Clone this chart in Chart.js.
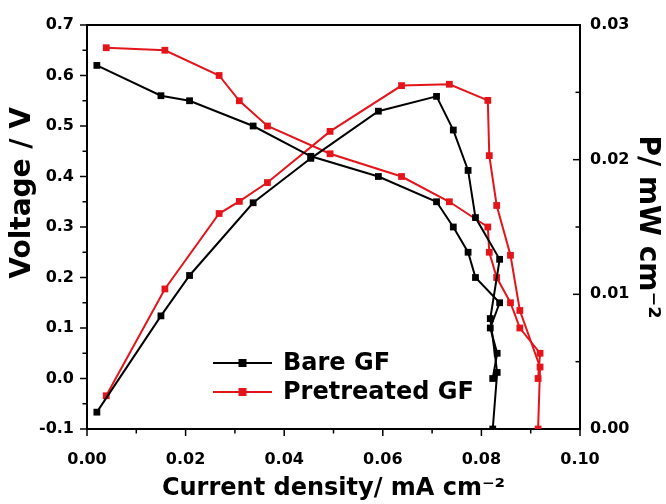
<!DOCTYPE html>
<html>
<head>
<meta charset="utf-8">
<title>Polarization and power curves</title>
<script src="https://cdn.jsdelivr.net/npm/chart.js@4.4.1/dist/chart.umd.min.js"></script>
<style>
  html, body { margin: 0; padding: 0; background: #fff; }
  #chart { display: block; }
</style>
</head>
<body>
<canvas id="chart" width="666" height="504"></canvas>
<script>
// Bare GF: current density (mA cm-2), cell voltage (V), power density (mW cm-2)
var bareCurrent = [0.0020, 0.0150, 0.0208, 0.0337, 0.0454, 0.0591, 0.0709, 0.0743, 0.0773, 0.0788, 0.0837, 0.0818, 0.0832, 0.0823];
var bareVoltage = [0.62, 0.56, 0.55, 0.50, 0.44, 0.40, 0.35, 0.30, 0.25, 0.20, 0.15, 0.10, 0.05, 0.00];
var barePower   = [0.00125, 0.0084, 0.0114, 0.0168, 0.0201, 0.0236, 0.0247, 0.0222, 0.0192, 0.0157, 0.0126, 0.0082, 0.0042, 0.0];

// Pretreated GF
var pretreatedCurrent = [0.0039, 0.0158, 0.0268, 0.0309, 0.0366, 0.0493, 0.0638, 0.0735, 0.0813, 0.0816, 0.0831, 0.0859, 0.0878, 0.0919, 0.0915];
var pretreatedVoltage = [0.655, 0.65, 0.60, 0.55, 0.50, 0.445, 0.40, 0.35, 0.30, 0.25, 0.20, 0.15, 0.10, 0.05, 0.00];
var pretreatedPower   = [0.00247, 0.0104, 0.0160, 0.0169, 0.0183, 0.0221, 0.0255, 0.0256, 0.0244, 0.0203, 0.0166, 0.0129, 0.0088, 0.0046, 0.0];

var seriesNames = ['Bare GF', 'Pretreated GF'];
var seriesColors = ['#000000', '#e3151b'];

var xTitle = 'Current density/ mA cm\u207B\u00B2';
var yTitle = 'Voltage / V';
var y2Title = 'P/ mW cm\u207B\u00B2';

function toPoints(xs, ys) {
    return xs.map(function (x, i) { return { x: x, y: ys[i] }; });
}

// round away float noise so zero never shows as "-0.0"
function fixed(v, digits) {
    if (Math.abs(v) < 1e-9) v = 0;
    return v.toFixed(digits);
}

function lineSet(label, xs, ys, color, axis) {
    return {
        label: label,
        data: toPoints(xs, ys),
        yAxisID: axis,
        borderColor: color,
        backgroundColor: color,
        borderWidth: 2,
        pointStyle: 'rect',
        pointRadius: 4.8,
        pointHoverRadius: 4.8,
        pointBorderWidth: 0,
        tension: 0,
        fill: false
    };
}

// small tick marks, major at labels and minor halfway between
var tickMarks = {
    id: 'tickMarks',
    afterDraw: function (chart) {
        var ctx = chart.ctx;
        var area = chart.chartArea;
        ctx.save();
        ctx.strokeStyle = '#000';
        ctx.lineWidth = 2;

        // frame line along the top
        ctx.beginPath();
        ctx.moveTo(area.left - 1, area.top);
        ctx.lineTo(area.right + 1, area.top);
        ctx.stroke();

        ctx.lineWidth = 1.5;
        var setup = [
            { id: 'x', dir: 'down', at: area.bottom },
            { id: 'y', dir: 'left', at: area.left },
            { id: 'y2', dir: 'left', at: area.right }
        ];
        setup.forEach(function (s) {
            var scale = chart.scales[s.id];
            var values = scale.ticks.map(function (t) { return t.value; });
            var marks = [];
            values.forEach(function (v, i) {
                marks.push({ v: v, len: 7 });
                if (i < values.length - 1) marks.push({ v: (v + values[i + 1]) / 2, len: 4.5 });
            });
            marks.forEach(function (m) {
                var p = scale.getPixelForValue(m.v);
                ctx.beginPath();
                if (s.dir === 'down') {
                    ctx.moveTo(p, s.at);
                    ctx.lineTo(p, s.at + m.len);
                } else {
                    ctx.moveTo(s.at, p);
                    ctx.lineTo(s.at - m.len, p);
                }
                ctx.stroke();
            });
        });
        ctx.restore();
    }
};

// legend inside the plot: line with a square marker, then the name
var insideLegend = {
    id: 'insideLegend',
    afterDatasetsDraw: function (chart) {
        var ctx = chart.ctx;
        var area = chart.chartArea;
        var x0 = area.left + 126;
        var y0 = area.top + 338;
        ctx.save();
        ctx.font = 'bold 24px "DejaVu Sans"';
        ctx.textBaseline = 'middle';
        ctx.textAlign = 'left';
        seriesNames.forEach(function (name, i) {
            var y = y0 + i * 29;
            ctx.strokeStyle = seriesColors[i];
            ctx.fillStyle = seriesColors[i];
            ctx.lineWidth = 2;
            ctx.beginPath();
            ctx.moveTo(x0, y);
            ctx.lineTo(x0 + 59, y);
            ctx.stroke();
            ctx.fillRect(x0 + 29.5 - 4, y - 4, 8, 8);
            ctx.fillStyle = '#000';
            ctx.fillText(name, x0 + 70, y + 1);
        });
        ctx.restore();
    }
};

Chart.defaults.font.family = '"DejaVu Sans", sans-serif';
Chart.defaults.font.weight = 'bold';
Chart.defaults.color = '#000';

var ctx = document.getElementById('chart').getContext('2d');
var chart = new Chart(ctx, {
    type: 'line',
    data: {
        datasets: [
            lineSet(seriesNames[0], bareCurrent, bareVoltage, seriesColors[0], 'y'),
            lineSet(seriesNames[0] + ' power', bareCurrent, barePower, seriesColors[0], 'y2'),
            lineSet(seriesNames[1], pretreatedCurrent, pretreatedVoltage, seriesColors[1], 'y'),
            lineSet(seriesNames[1] + ' power', pretreatedCurrent, pretreatedPower, seriesColors[1], 'y2')
        ]
    },
    options: {
        responsive: false,
        animation: false,
        layout: { padding: { top: 25, left: 0, right: 0, bottom: 0 } },
        plugins: {
            legend: { display: false },
            tooltip: { enabled: false }
        },
        scales: {
            x: {
                type: 'linear',
                position: 'bottom',
                min: 0,
                max: 0.1,
                grid: { display: false, drawTicks: false },
                border: { display: true, color: '#000', width: 2 },
                ticks: {
                    stepSize: 0.02,
                    padding: 21,
                    autoSkip: false,
                    maxRotation: 0,
                    font: { size: 16, weight: 'bold' },
                    callback: function (v) { return fixed(v, 2); }
                },
                title: {
                    display: true,
                    text: xTitle,
                    font: { size: 24, weight: 'bold' },
                    padding: { top: 0, bottom: 1 }
                },
                afterFit: function (s) { s.height = 75; }
            },
            y: {
                type: 'linear',
                position: 'left',
                min: -0.1,
                max: 0.7,
                grid: { display: false, drawTicks: false },
                border: { display: true, color: '#000', width: 2 },
                ticks: {
                    stepSize: 0.1,
                    padding: 13,
                    font: { size: 16, weight: 'bold' },
                    callback: function (v) { return fixed(v, 1); }
                },
                title: {
                    display: true,
                    text: '       ' + yTitle,
                    font: { size: 28, weight: 'bold' },
                    padding: { top: 6, bottom: 0 }
                },
                afterFit: function (s) { s.width = 87; }
            },
            y2: {
                type: 'linear',
                position: 'right',
                min: 0,
                max: 0.03,
                grid: { display: false, drawTicks: false },
                border: { display: true, color: '#000', width: 2 },
                ticks: {
                    stepSize: 0.01,
                    padding: 10,
                    font: { size: 16, weight: 'bold' },
                    callback: function (v) { return fixed(v, 2); }
                },
                title: {
                    display: true,
                    text: y2Title,
                    font: { size: 28, weight: 'bold' },
                    padding: { top: 2, bottom: 0 }
                },
                afterFit: function (s) { s.width = 86; }
            }
        }
    },
    plugins: [tickMarks, insideLegend]
});
</script>
</body>
</html>
